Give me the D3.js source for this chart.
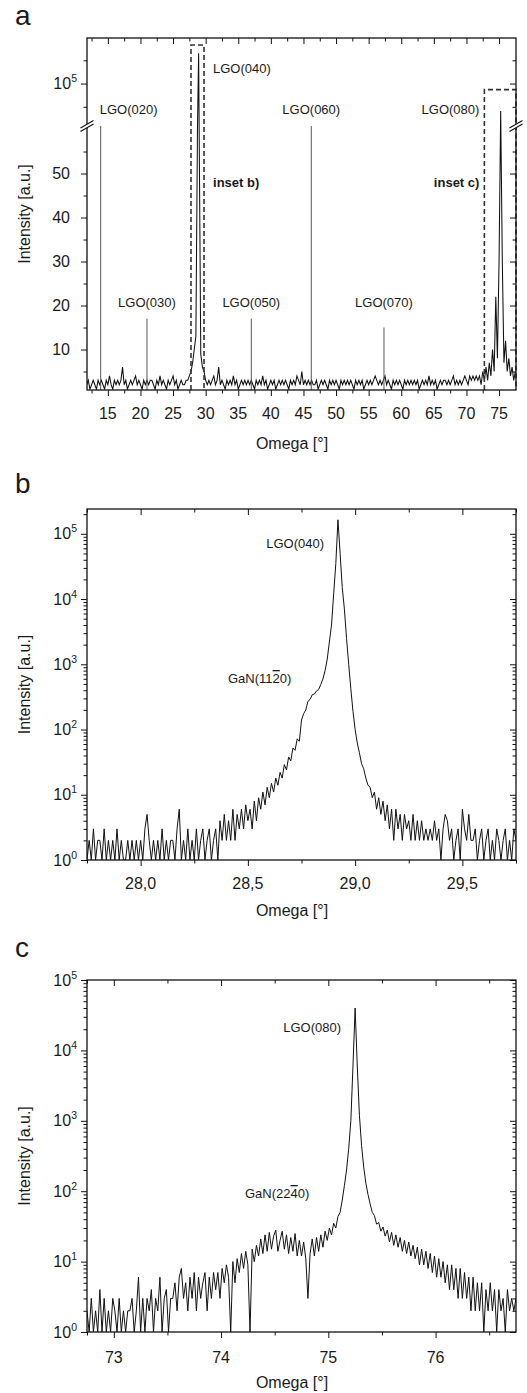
<!DOCTYPE html>
<html>
<head>
<meta charset="utf-8">
<script src="https://cdn.jsdelivr.net/npm/d3@7"></script>
<style>
  body { margin: 0; background: #fff; }
  svg text { font-family: "Liberation Sans", Arial, sans-serif; fill: #1a1a1a; }
</style>
</head>
<body>
<svg id="fig" width="527" height="1393"></svg>
<script>
// ---- panel a: survey scan, 0.25 deg grid from 11.75 ----
const aStart = 11.75;
const aStep = 0.25;
const aCounts = [
  2, 3, 1, 2, 3, 2, 1, 3, 2, 3, 2, 1, 3, 2, 4, 2, 1, 3, 2, 3,
  2, 3, 6, 2, 3, 1, 2, 3, 2, 3, 4, 2, 3, 2, 1, 3, 2, 3, 2, 3,
  3, 2, 1, 3, 2, 4, 2, 3, 2, 1, 3, 2, 3, 4, 2, 3, 1, 2, 3, 2,
  2, 3, 3, 4, 5, 7, 10, 13, 140, 100, 9, 6, 5, 3, 2, 3, 2, 3, 4, 2,
  3, 6, 2, 3, 2, 1, 3, 2, 3, 2, 4, 2, 3, 1, 2, 3, 2, 3, 2, 3,
  2, 3, 2, 1, 3, 2, 3, 2, 4, 2, 3, 1, 2, 3, 2, 3, 1, 2, 3, 2,
  3, 2, 3, 2, 1, 3, 2, 3, 2, 4, 3, 2, 5, 2, 3, 2, 3, 2, 3, 2,
  2, 3, 1, 2, 3, 2, 3, 2, 1, 3, 2, 3, 2, 3, 2, 1, 3, 2, 3, 2,
  3, 2, 3, 2, 1, 3, 2, 3, 2, 3, 1, 2, 3, 2, 3, 2, 3, 4, 3, 2,
  3, 2, 3, 4, 2, 3, 2, 1, 3, 2, 3, 2, 3, 2, 1, 3, 2, 3, 2, 3,
  2, 3, 2, 3, 1, 2, 3, 2, 3, 2, 4, 2, 3, 2, 3, 1, 2, 3, 2, 3,
  3, 2, 3, 2, 3, 4, 2, 3, 2, 3, 2, 3, 4, 3, 2, 4, 3, 4, 3, 4,
  3, 4, 2, 5, 3, 6, 3, 7, 4, 10, 5, 22, 8, 30, 41000, 30, 7, 12, 5, 8,
  4, 6, 3, 5,
];
// apex of LGO(040), merged into the survey trace
const aApexOmega = [28.92];
const aApexCounts = [165000];
// narrow LGO reflections (020, 030, 050, 060, 070)
const aSpikeOmega = [13.9, 21.0, 37.0, 46.2, 57.35];
const aSpikeCounts = [5000, 17, 17, 5000, 15];
const aLabels = ['LGO(020)', 'LGO(030)', 'LGO(040)', 'LGO(050)', 'LGO(060)', 'LGO(070)', 'LGO(080)'];
const aXTicks = [15, 20, 25, 30, 35, 40, 45, 50, 55, 60, 65, 70, 75];
const aYTicksLow = [10, 20, 30, 40, 50];
const aYTicksHigh = [100000];
const insetNames = ['inset b)', 'inset c)'];
const insetOmega = [[27.75, 29.75], [72.75, 77.6]];
const insetTop = [183000, 87000];

// ---- panel b: LGO(040) / GaN(11-20), 0.01 deg grid ----
const bStart = 27.75;
const bStep = 0.01;
const bCounts = [
  1, 2, 1, 3, 1, 2, 2, 1, 3, 1, 2, 1, 2, 1, 3, 1, 2, 1, 1, 2,
  1, 2, 1, 2, 1, 2, 1, 3, 5, 2, 1, 2, 1, 2, 1, 3, 1, 2, 1, 2,
  2, 1, 3, 6, 1, 2, 1, 3, 1, 2, 1, 3, 1, 2, 3, 1, 2, 3, 1, 2,
  3, 1, 4, 2, 5, 2, 4, 2, 6, 2, 5, 3, 6, 3, 7, 4, 6, 3, 8, 4,
  9, 6, 11, 7, 13, 9, 15, 11, 18, 14, 22, 18, 29, 24, 38, 33, 52, 48, 72, 66,
  140, 175, 200, 270, 290, 340, 350, 390, 410, 490, 600, 800, 1200, 2200, 4000, 12000, 35000, 164000, 50000, 15000,
  7000, 2500, 1000, 420, 190, 100, 62, 44, 30, 25, 18, 14, 13, 9, 11, 6, 9, 5, 8, 4,
  7, 3, 6, 2, 6, 3, 5, 2, 5, 3, 4, 2, 5, 2, 4, 2, 4, 2, 3, 2,
  3, 2, 4, 2, 3, 1, 3, 5, 4, 2, 3, 1, 2, 3, 1, 6, 3, 2, 5, 2,
  2, 3, 1, 2, 3, 1, 2, 3, 1, 2, 1, 3, 2, 1, 2, 3, 1, 2, 1, 3,
  2,
];
const bXTicks = [28.0, 28.5, 29.0, 29.5];
const bLabels = ['LGO(040)', 'GaN(11', '2', '0)'];

// ---- panel c: LGO(080) / GaN(22-40), 0.02 deg grid ----
const cStart = 72.75;
const cStep = 0.02;
const cCounts = [
  2, 1, 3, 1, 2, 1, 4, 1, 3, 1, 2, 1, 3, 2, 1, 3, 1, 2, 1, 2,
  2, 3, 1, 2, 6, 1, 3, 1, 3, 2, 4, 1, 3, 2, 6, 1, 3, 4, 1, 3,
  3, 5, 2, 6, 8, 3, 5, 2, 6, 3, 7, 2, 6, 3, 5, 7, 2, 6, 3, 7,
  4, 7, 3, 8, 5, 9, 6, 1, 10, 5, 11, 7, 13, 8, 14, 9, 1, 15, 10, 17,
  12, 21, 13, 24, 14, 26, 15, 23, 28, 14, 20, 27, 15, 24, 13, 22, 14, 25, 12, 20,
  12, 19, 11, 3, 13, 21, 12, 22, 14, 24, 16, 27, 20, 30, 24, 35, 30, 44, 50, 75,
  120, 200, 400, 1000, 6000, 40000, 6000, 1200, 450, 220, 130, 90, 66, 50, 45, 34, 36, 27, 31, 23,
  28, 19, 26, 17, 24, 16, 22, 14, 20, 13, 19, 12, 17, 11, 16, 9, 15, 9, 14, 8,
  13, 7, 12, 6, 11, 6, 10, 5, 9, 4, 9, 4, 8, 3, 8, 3, 7, 3, 6, 2,
  6, 2, 5, 2, 5, 1, 4, 2, 5, 2, 4, 1, 4, 2, 3, 1, 4, 2, 3, 2,
  3,
];
const cXTicks = [73, 74, 75, 76];
const cLabels = ['LGO(080)', 'GaN(22', '4', '0)'];

const logMajor = [1, 10, 100, 1000, 10000, 100000];

// ---------------------------------------------------------------
const svg = d3.select('#fig');
const L = 87;
const R = 516;
const INK = '#111';

function ticks(g, axis, transform, values, size) {
  g.append('g')
    .attr('transform', transform)
    .call(axis.tickValues(values).tickSize(size).tickFormat(''))
    .call((s) => {
      s.select('.domain').remove();
      s.selectAll('text').remove();
      s.selectAll('line').attr('stroke', INK).attr('stroke-width', 1);
    });
}

function xFrameTicks(g, x, top, bottom, major, minor) {
  ticks(g, d3.axisBottom(x), `translate(0,${bottom})`, major, 6);
  ticks(g, d3.axisBottom(x), `translate(0,${bottom})`, minor, 3.5);
  ticks(g, d3.axisTop(x), `translate(0,${top})`, major, -6);
  ticks(g, d3.axisTop(x), `translate(0,${top})`, minor, -3.5);
}

function yFrameTicks(g, y, major, minor) {
  ticks(g, d3.axisLeft(y), `translate(${L},0)`, major, 6);
  ticks(g, d3.axisLeft(y), `translate(${L},0)`, minor, 3.5);
  ticks(g, d3.axisRight(y), `translate(${R},0)`, major, -6);
  ticks(g, d3.axisRight(y), `translate(${R},0)`, minor, -3.5);
}

function frame(g, top, bottom) {
  g.append('rect')
    .attr('x', L).attr('y', top)
    .attr('width', R - L).attr('height', bottom - top)
    .attr('fill', 'none').attr('stroke', INK).attr('stroke-width', 1.3);
}

function clip(id, top, bottom) {
  svg.append('clipPath').attr('id', id)
    .append('rect').attr('x', L).attr('y', top)
    .attr('width', R - L).attr('height', bottom - top);
}

function trace(g, id, pts, x, y, width) {
  g.append('path')
    .attr('clip-path', `url(#${id})`)
    .attr('d', d3.line().x((d) => x(d[0])).y((d) => y(d[1]))(pts))
    .attr('fill', 'none').attr('stroke', INK)
    .attr('stroke-width', width).attr('stroke-linejoin', 'miter');
}

function powLabel(g, y, v) {
  const t = g.append('text')
    .attr('x', 77).attr('y', y(v) + 5.5)
    .attr('text-anchor', 'end').attr('font-size', 16);
  t.append('tspan').text('10');
  t.append('tspan').attr('dy', -7).attr('font-size', 10.5).text(Math.round(Math.log10(v)));
}

function titles(g, letter, letterY, top, bottom, xTitleY) {
  g.append('text').attr('x', 15).attr('y', letterY)
    .attr('font-size', 28).text(letter);
  g.append('text')
    .attr('transform', `translate(30,${(top + bottom) / 2}) rotate(-90)`)
    .attr('text-anchor', 'middle').attr('font-size', 16)
    .text('Intensity [a.u.]');
  g.append('text').attr('x', 292).attr('y', xTitleY)
    .attr('text-anchor', 'middle').attr('font-size', 16)
    .text('Omega [°]');
}

function xLabels(g, x, values, y, fmt) {
  g.selectAll(null).data(values).join('text')
    .attr('x', (d) => x(d)).attr('y', y)
    .attr('text-anchor', 'middle').attr('font-size', 16)
    .text(fmt);
}

function logMinor(domain) {
  const out = [];
  logMajor.forEach((d) => {
    for (let k = 2; k <= 9; k += 1) {
      if (d * k > domain[0] && d * k < domain[1]) out.push(d * k);
    }
  });
  return out;
}

function barLabel(g, x, y, anchor, parts) {
  const t = g.append('text').attr('x', x).attr('y', y)
    .attr('text-anchor', anchor).attr('font-size', 13);
  t.append('tspan').text(parts[0]);
  t.append('tspan').style('text-decoration', 'overline').text(parts[1]);
  t.append('tspan').text(parts[2]);
}

// ================= panel a =================
{
  const top = 38;
  const bottom = 390;
  const yBreak = 126;
  const g = svg.append('g');
  const x = d3.scaleLinear([11.8, 77.6], [L, R]);
  const yLow = d3.scaleLinear([0.8, 60.8], [bottom, yBreak]);
  const yHigh = d3.scaleLinear([8700, 198000], [yBreak, top]);
  const y = (v) => (v <= 60.8 ? yLow(v) : v < 8700 ? yBreak : yHigh(v));

  const pts = aCounts.map((v, i) => [aStart + i * aStep, v])
    .concat(aApexOmega.map((o, i) => [o, aApexCounts[i]]))
    .sort((p, q) => p[0] - q[0]);

  clip('clipA', top, bottom);
  trace(g, 'clipA', pts, x, y, 1.05);

  // narrow reflections
  g.selectAll(null).data(aSpikeOmega).join('line')
    .attr('x1', (d) => x(d)).attr('x2', (d) => x(d))
    .attr('y1', bottom).attr('y2', (d, i) => y(aSpikeCounts[i]))
    .attr('stroke', '#555').attr('stroke-width', 1);

  // inset frames
  g.selectAll(null).data(insetOmega).join('path')
    .attr('d', (d, i) => `M${x(d[0])},${bottom}V${yHigh(insetTop[i])}H${x(d[1])}V${bottom}`)
    .attr('fill', 'none').attr('stroke', '#333')
    .attr('stroke-width', 1.6).attr('stroke-dasharray', '5,3');

  frame(g, top, bottom);
  xFrameTicks(g, x, top, bottom, aXTicks, aXTicks.map((d) => d - 2.5));
  ticks(g, d3.axisLeft(yLow), `translate(${L},0)`, aYTicksLow, 6);
  ticks(g, d3.axisLeft(yLow), `translate(${L},0)`, [5, 15, 25, 35, 45, 55], 3.5);
  ticks(g, d3.axisRight(yLow), `translate(${R},0)`, aYTicksLow, -6);
  ticks(g, d3.axisRight(yLow), `translate(${R},0)`, [5, 15, 25, 35, 45, 55], -3.5);
  ticks(g, d3.axisLeft(yHigh), `translate(${L},0)`, aYTicksHigh, 6);
  ticks(g, d3.axisLeft(yHigh), `translate(${L},0)`, [50000, 150000], 3.5);
  ticks(g, d3.axisRight(yHigh), `translate(${R},0)`, aYTicksHigh, -6);
  ticks(g, d3.axisRight(yHigh), `translate(${R},0)`, [50000, 150000], -3.5);

  // axis break marks
  [L, R].forEach((bx) => {
    g.append('path')
      .attr('d', `M${bx - 6.5},${yBreak + 5.5}L${bx + 6.5},${yBreak - 2}L${bx + 6.5},${yBreak - 5.5}L${bx - 6.5},${yBreak + 2}Z`)
      .attr('fill', '#fff');
    [-1.8, 1.8].forEach((o) => {
      g.append('line')
        .attr('x1', bx - 6.5).attr('y1', yBreak + o + 3.75)
        .attr('x2', bx + 6.5).attr('y2', yBreak + o - 3.75)
        .attr('stroke', INK).attr('stroke-width', 1.1);
    });
  });

  g.selectAll(null).data(aYTicksLow).join('text')
    .attr('x', 70).attr('y', (d) => yLow(d) + 5.5)
    .attr('text-anchor', 'end').attr('font-size', 16).text((d) => d);
  powLabel(g, yHigh, aYTicksHigh[0]);
  xLabels(g, x, aXTicks, 419, (d) => d);

  // reflection labels
  const lab = (i, px, py, anchor) => g.append('text')
    .attr('x', px).attr('y', py).attr('text-anchor', anchor)
    .attr('font-size', 13).text(aLabels[i]);
  lab(0, x(aSpikeOmega[0]) - 1, 114, 'start');
  lab(1, x(aSpikeOmega[1]), 307, 'middle');
  lab(2, x(insetOmega[0][1]) + 9, 73, 'start');
  lab(3, x(aSpikeOmega[2]), 307, 'middle');
  lab(4, x(aSpikeOmega[3]), 114, 'middle');
  lab(5, x(aSpikeOmega[4]), 307, 'middle');
  lab(6, x(insetOmega[1][0]) - 5, 114, 'end');
  g.append('text').attr('x', x(insetOmega[0][1]) + 9).attr('y', 187)
    .attr('font-size', 13).attr('font-weight', 'bold').text(insetNames[0]);
  g.append('text').attr('x', x(insetOmega[1][0]) - 5).attr('y', 187)
    .attr('text-anchor', 'end')
    .attr('font-size', 13).attr('font-weight', 'bold').text(insetNames[1]);

  titles(g, 'a', 25, top, bottom, 449);
}

// ================= panel b =================
{
  const top = 509;
  const bottom = 860;
  const g = svg.append('g');
  const x = d3.scaleLinear([27.75, 29.75], [L, R]);
  const y = d3.scaleLog([1, 2.4e5], [bottom, top]);
  const pts = bCounts.map((v, i) => [bStart + i * bStep, v]);

  clip('clipB', top, bottom);
  trace(g, 'clipB', pts, x, y, 1.0);

  frame(g, top, bottom);
  xFrameTicks(g, x, top, bottom, bXTicks, [27.75, 28.25, 28.75, 29.25, 29.75]);
  yFrameTicks(g, y, logMajor, logMinor(y.domain()));
  logMajor.forEach((v) => powLabel(g, y, v));
  xLabels(g, x, bXTicks, 889, (d) => d3.format('.1f')(d).replace('.', ','));

  g.append('text').attr('x', 324).attr('y', 548)
    .attr('text-anchor', 'end').attr('font-size', 13).text(bLabels[0]);
  barLabel(g, 228, 683, 'start', bLabels.slice(1));

  titles(g, 'b', 493, top, bottom, 916);
}

// ================= panel c =================
{
  const top = 980;
  const bottom = 1332;
  const g = svg.append('g');
  const x = d3.scaleLinear([72.75, 76.75], [L, R]);
  const y = d3.scaleLog([1, 1e5], [bottom, top]);
  const pts = cCounts.map((v, i) => [cStart + i * cStep, v]);

  clip('clipC', top, bottom);
  trace(g, 'clipC', pts, x, y, 1.0);

  frame(g, top, bottom);
  xFrameTicks(g, x, top, bottom, cXTicks, [72.75, 73.5, 74.5, 75.5, 76.5]);
  yFrameTicks(g, y, logMajor, logMinor(y.domain()));
  logMajor.forEach((v) => powLabel(g, y, v));
  xLabels(g, x, cXTicks, 1363, (d) => d);

  g.append('text').attr('x', 341).attr('y', 1032)
    .attr('text-anchor', 'end').attr('font-size', 13).text(cLabels[0]);
  barLabel(g, 245, 1198, 'start', cLabels.slice(1));

  titles(g, 'c', 957, top, bottom, 1388);
}
</script>
</body>
</html>
